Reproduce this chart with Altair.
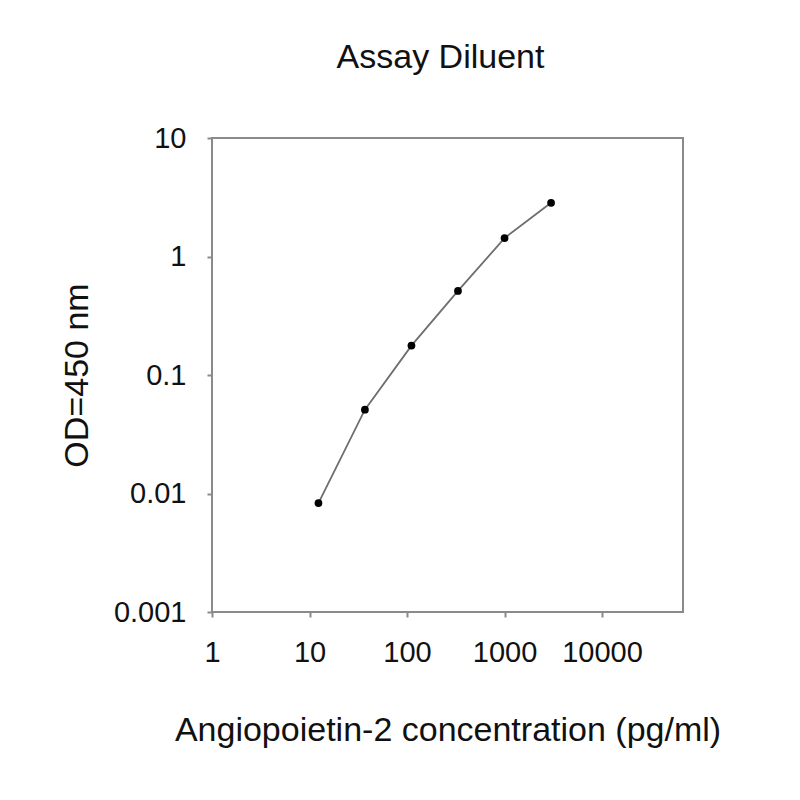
import altair as alt
import pandas as pd

concentration = [12.35, 37.0, 111.0, 333.0, 1000.0, 3000.0]
od450 = [0.0083, 0.051, 0.177, 0.512, 1.43, 2.84]
x_ticks = [1, 10, 100, 1000, 10000]
y_ticks = [0.001, 0.01, 0.1, 1, 10]

df = pd.DataFrame({"conc": concentration, "od": od450})

FONT = "Liberation Sans"
GRAY = "#8a8a8a"
TXT = "#111111"

x = alt.X(
    "conc:Q",
    scale=alt.Scale(type="log", domain=[1, 67600], nice=False),
    axis=alt.Axis(
        values=x_ticks,
        format="~r",
        title="Angiopoietin-2 concentration (pg/ml)",
        grid=False,
        domain=False,
        labelFlush=False,
        tickColor=GRAY,
        tickWidth=2,
        tickSize=5,
        labelPadding=21,
        labelFontSize=29,
        labelFont=FONT,
        labelColor=TXT,
        titleFontSize=34,
        titleFont=FONT,
        titleFontWeight="normal",
        titleColor=TXT,
        titleBaseline="alphabetic",
        titleY=128,
    ),
)
y = alt.Y(
    "od:Q",
    scale=alt.Scale(type="log", domain=[0.001, 10], nice=False),
    axis=alt.Axis(
        values=y_ticks,
        format="~r",
        title="OD=450 nm",
        grid=False,
        domain=False,
        labelFlush=False,
        tickColor=GRAY,
        tickWidth=2,
        tickSize=5,
        labelPadding=21,
        labelFontSize=29,
        labelFont=FONT,
        labelColor=TXT,
        titleFontSize=34,
        titleFont=FONT,
        titleFontWeight="normal",
        titleColor=TXT,
        titleBaseline="alphabetic",
        titleAngle=270,
        titleX=-125,
    ),
)

line = alt.Chart(df).mark_line(color="#6e6e6e", strokeWidth=1.8).encode(x=x, y=y)
pts = alt.Chart(df).mark_circle(color="#000000", size=60, opacity=1).encode(x=x, y=y)

chart = (
    alt.layer(line, pts)
    .properties(
        width=471,
        height=474,
        title=alt.TitleParams(
            "Assay Diluent",
            fontSize=34,
            font=FONT,
            fontWeight="normal",
            color=TXT,
            baseline="alphabetic",
            offset=22,
            dx=-7,
        ),
        autosize=alt.AutoSizeParams(type="none"),
        padding={"left": 204, "top": 130, "right": 90, "bottom": 160},
    )
    .configure_view(stroke=GRAY, strokeWidth=2)
)

chart.save("out.html", embed_options={"renderer": "svg", "actions": False})
